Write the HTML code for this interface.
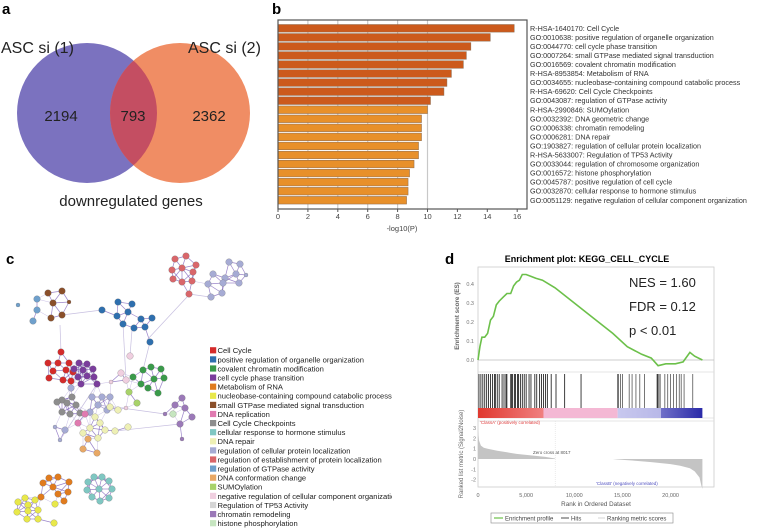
<!DOCTYPE html>
<html><head><meta charset="utf-8">
<style>
html,body{margin:0;padding:0;background:#fff;}
svg{display:block;font-family:"Liberation Sans",Arial,sans-serif;}
</style></head>
<body>
<svg id="fig" width="757" height="529" viewBox="0 0 757 529" xmlns="http://www.w3.org/2000/svg">
  <!-- Panel a: Venn -->
  <g>
    <text x="2" y="14" font-size="15" font-weight="bold">a</text>
    <circle cx="87" cy="113" r="70" fill="#7b72bf"/>
    <circle cx="180" cy="113" r="70" fill="#f0895f" fill-opacity="0.97"/>
    <clipPath id="clipL"><circle cx="87" cy="113" r="70"/></clipPath>
    <circle cx="180" cy="113" r="70" fill="#c44e62" clip-path="url(#clipL)"/>
    <text x="1" y="53" font-size="16" fill="#222">ASC si (1)</text>
    <text x="188" y="53" font-size="16" fill="#222">ASC si (2)</text>
    <text x="61" y="121" font-size="15" text-anchor="middle" fill="#222">2194</text>
    <text x="133" y="121" font-size="15" text-anchor="middle" fill="#222">793</text>
    <text x="209" y="121" font-size="15" text-anchor="middle" fill="#222">2362</text>
    <text x="131" y="206" font-size="15" text-anchor="middle" fill="#222">downregulated genes</text>
  </g>

  <!-- Panel b -->
  <g id="panelB">
    <text x="272" y="14" font-size="15" font-weight="bold">b</text>
  </g>

  <!-- Panel c -->
  <g id="panelC">
    <text x="6" y="264" font-size="15" font-weight="bold">c</text>
  </g>

  <!-- Panel d -->
  <g id="panelD">
    <text x="445" y="264" font-size="15" font-weight="bold">d</text>
    <text x="587" y="262" font-size="9" font-weight="bold" text-anchor="middle">Enrichment plot: KEGG_CELL_CYCLE</text>
  </g>
</svg>
<script>
const NS='http://www.w3.org/2000/svg';
function mk(parent,tag,attrs,text){const e=document.createElementNS(NS,tag);for(const k in attrs)e.setAttribute(k,attrs[k]);if(text!==undefined)e.textContent=text;parent.appendChild(e);return e;}

/* ---------- Panel b data ---------- */
const bTerms=["R-HSA-1640170: Cell Cycle","GO:0010638: positive regulation of organelle organization","GO:0044770: cell cycle phase transition","GO:0007264: small GTPase mediated signal transduction","GO:0016569: covalent chromatin modification","R-HSA-8953854: Metabolism of RNA","GO:0034655: nucleobase-containing compound catabolic process","R-HSA-69620: Cell Cycle Checkpoints","GO:0043087: regulation of GTPase activity","R-HSA-2990846: SUMOylation","GO:0032392: DNA geometric change","GO:0006338: chromatin remodeling","GO:0006281: DNA repair","GO:1903827: regulation of cellular protein localization","R-HSA-5633007: Regulation of TP53 Activity","GO:0033044: regulation of chromosome organization","GO:0016572: histone phosphorylation","GO:0045787: positive regulation of cell cycle","GO:0032870: cellular response to hormone stimulus","GO:0051129: negative regulation of cellular component organization"];
const bValues=[15.8,14.2,12.9,12.6,12.4,11.6,11.3,11.1,10.2,10.0,9.6,9.6,9.6,9.4,9.4,9.1,8.8,8.7,8.7,8.6];
const bTicks=[0,2,4,6,8,10,12,14,16];

/* ---------- Panel c data ---------- */
const cLegend=["Cell Cycle","positive regulation of organelle organization","covalent chromatin modification","cell cycle phase transition","Metabolism of RNA","nucleobase-containing compound catabolic process","small GTPase mediated signal transduction","DNA replication","Cell Cycle Checkpoints","cellular response to hormone stimulus","DNA repair","regulation of cellular protein localization","regulation of establishment of protein localization","regulation of GTPase activity","DNA conformation change","SUMOylation","negative regulation of cellular component organization","Regulation of TP53 Activity","chromatin remodeling","histone phosphorylation"];
const cColors=["#d42b2b","#2e6fae","#3a9a4a","#7a3d9c","#e07b1e","#e8e84a","#8a4f2a","#e07ab0","#8d8d8d","#7fc7c2","#eef0b5","#a6abd4","#d9666a","#6fa0cc","#e8a865","#a8d26a","#f0cfe0","#d5d5d5","#9b79b8","#c6e5c0"];

/* ---------- Panel d data ---------- */
const esRanks=[0,0.2,0.4,0.7,1.0,1.3,1.6,1.9,2.2,2.6,3.0,3.4,3.7,4.0,4.3,4.6,5.0,5.5,6.0,6.7,8,10,12,14,15.5,17,18,18.7,19.5,20.5,21.3,22.0,22.5,23.3];
const esValues=[0.0,0.07,0.12,0.12,0.14,0.21,0.23,0.29,0.31,0.33,0.35,0.35,0.39,0.41,0.42,0.45,0.45,0.44,0.43,0.42,0.38,0.30,0.22,0.14,0.07,0.03,0.01,-0.03,-0.02,-0.02,-0.01,0.04,0.02,0.0];
const hitRanks=[0.1,0.3,0.5,0.7,0.9,1.1,1.3,1.5,1.7,1.8,2.0,2.2,2.5,2.7,2.9,3.0,3.4,3.5,3.6,3.8,3.9,4.1,4.2,4.4,4.6,4.8,5.0,5.3,5.5,5.9,6.1,6.4,6.6,6.8,7.0,7.2,7.6,8.1,9.0,10.7,14.5,14.6,14.8,15.0,15.7,16.0,16.4,16.8,17.3,18.6,18.7,18.9,19.4,19.7,20.0,20.3,20.6,20.9,21.1,21.4,22.3];
const metricRanks=[0,0.1,0.3,0.6,1,2,3,4,5,6,7,8,8.017,10,12,14,14.5,16,18,20,21,22,22.5,23,23.2,23.3];
const metricValues=[2.8,1.8,1.3,1.1,1.0,0.8,0.65,0.5,0.4,0.3,0.2,0.05,0,0,0,0,-0.05,-0.15,-0.3,-0.5,-0.65,-0.9,-1.2,-1.8,-2.6,-2.9];
const xTickVals=[0,5000,10000,15000,20000];
const xTickLabels=["0","5,000","10,000","15,000","20,000"];
const esTicks=[0.0,0.1,0.2,0.3,0.4];
const metricTicks=[3,2,1,0,-1,-2];

/* ===== Draw panel b ===== */
(function(){
  const g=document.getElementById('panelB');
  const x0=278,x1=527,y0=20,y1=209,step=9.05,top=24.5;
  const sx=v=>x0+v*14.95;
  bTicks.forEach(t=>{ if(t>0&&t<=10){const gl=mk(g,'line',{x1:sx(t),x2:sx(t),y1:y0,y2:y1,stroke:'#c8c8c8','stroke-width':1.2});
    
    }});
  bValues.forEach((v,i)=>{
    const r=mk(g,'rect',{x:x0,y:top+i*step,width:sx(v)-x0,height:7.6,fill:i<9?'#cc5a1c':'#e8902a',stroke:'#8a6a50','stroke-width':0.5});
    
    
    const t=mk(g,'text',{x:530,y:top+i*step+6.3,'font-size':7.2,fill:'#333'},bTerms[i]);
    
    
  });
  const box=mk(g,'rect',{x:x0,y:y0,width:x1-x0,height:y1-y0,fill:'none',stroke:'#555','stroke-width':1.2});
  
  
  bTicks.forEach(t=>{mk(g,'line',{x1:sx(t),x2:sx(t),y1:y1,y2:y1+3,stroke:'#555'});
    const tl=mk(g,'text',{x:sx(t),y:219,'font-size':7.5,'text-anchor':'middle',fill:'#444'},String(t));
    
    });
  const xt=mk(g,'text',{x:402,y:231,'font-size':7.5,'text-anchor':'middle',fill:'#444'},'-log10(P)');
  
  
})();

/* ===== Draw panel c ===== */
(function(){
  const g=document.getElementById('panelC');
  const C=(i)=>cColors[i];
  const clusters=[
    {c:12,n:[[175,259],[186,256],[196,265],[172,270],[182,268],[193,272],[173,279],[182,282],[192,281],[189,294]]},
    {c:11,n:[[229,262],[240,264],[213,274],[225,278],[236,274],[208,284],[223,283],[239,283],[246,275,2],[222,293],[211,297]]},
    {c:6,n:[[48,293],[62,291],[53,303],[51,318],[62,315],[69,302,2]]},
    {c:13,n:[[18,305,2],[37,299],[37,310],[33,321]]},
    {c:1,n:[[102,310],[118,302],[132,304],[117,316],[128,312],[123,324],[134,328],[141,319],[152,318],[145,327],[150,342]]},
    {c:0,n:[[61,352],[48,363],[58,363],[69,363],[53,371],[66,370],[73,372],[49,378],[63,380],[71,381]]},
    {c:3,n:[[79,363],[87,364],[74,369],[83,370],[93,369],[78,377],[87,376],[94,377],[81,384],[97,384]]},
    {c:2,n:[[143,370],[151,367],[161,369],[133,377],[154,379],[164,378],[141,384],[148,388],[158,393]]},
    {c:8,n:[[62,400],[72,397],[57,402],[67,403],[76,405],[62,412],[70,414],[80,413]]},
    {c:11,n:[[92,397],[102,397],[110,397],[98,405],[107,410],[90,412],[55,427,2],[65,430],[60,440,2],[71,388]]},
    {c:7,n:[[85,414],[78,423]]},
    {c:10,n:[[110,407],[118,410],[95,417],[100,423],[90,428],[83,433],[115,431],[128,427],[98,438],[105,430]]},
    {c:14,n:[[88,439],[83,449],[97,453]]},
    {c:15,n:[[129,392],[137,403]]},
    {c:16,n:[[130,356],[121,373],[126,380],[111,382,2],[126,408,2]]},
    {c:18,n:[[182,398],[175,405],[185,408],[192,417],[165,414,2],[180,424],[182,439,2]]},
    {c:19,n:[[173,414]]},
    {c:4,n:[[49,478],[58,477],[69,482],[43,483],[53,487],[68,492],[58,494],[64,501],[41,497]]},
    {c:5,n:[[18,502],[28,505],[17,512],[28,511],[38,510],[27,519],[38,519],[25,498],[35,500],[55,504],[54,523]]},
    {c:9,n:[[99,489],[94,477],[102,477],[109,481],[112,489],[109,498],[100,501],[92,497],[87,490],[88,482]]}
  ];
  const all=[];
  clusters.forEach((cl,ci)=>cl.n.forEach(p=>all.push({x:p[0],y:p[1],r:p[2]||3.3,c:C(cl.c),ci})));
  const eg=mk(g,'g',{});
  
  
  for(let i=0;i<all.length;i++)for(let j=i+1;j<all.length;j++){
    const a=all[i],b=all[j],d=Math.hypot(a.x-b.x,a.y-b.y);
    if(d<17){mk(eg,'line',{x1:a.x,y1:a.y,x2:b.x,y2:b.y,stroke:(a.ci===b.ci)?'#7a5cb8':'#b7a8dc','stroke-width':(a.ci===b.ci)?0.7:0.5,'stroke-opacity':0.75});}
  }
  [[62,315,102,310],[60,325,61,352],[132,330,130,356],[150,342,143,370],[187,297,147,340],[100,405,165,414],[123,324,126,380],[210,297,189,294],[97,384,60,440],[115,431,180,424]].forEach(l=>
    mk(eg,'line',{x1:l[0],y1:l[1],x2:l[2],y2:l[3],stroke:'#c7bfe0','stroke-width':0.7}));
  const ng=mk(g,'g',{});
  
  
  all.forEach(n=>{const c=mk(ng,'circle',{cx:n.x,cy:n.y,r:n.r,fill:n.c,stroke:'#777','stroke-width':0.3});
    
    });
  const lg=mk(g,'g',{});
  
  
  const cp=mk(g,'clipPath',{id:'legClip'});mk(cp,'rect',{x:200,y:330,width:192,height:200});
  lg.setAttribute('clip-path','url(#legClip)');
  cLegend.forEach((t,i)=>{
    const y=350.5+i*9.1;
    const s=mk(lg,'rect',{x:210,y:y-3.3,width:6.2,height:6.2,fill:cColors[i]});
    
    
    const tx=mk(lg,'text',{x:217.5,y:y+2.7,'font-size':7.6,fill:'#222'},t);
    
    
  });
})();

/* ===== Draw panel d ===== */
(function(){
  const g=document.getElementById('panelD');
  const X0=478,X1=714,T=267,B=487;
  const sx=r=>X0+r*9.63; // r in thousands
  const sEs=v=>360-v*190;
  const sM=v=>459-v*10.3;
  const fr=mk(g,'rect',{x:X0,y:T,width:X1-X0,height:B-T,fill:'none',stroke:'#ccc','stroke-width':0.8});
  
  
  [372,418,421].forEach(y=>mk(g,'line',{x1:X0,x2:X1,y1:y,y2:y,stroke:'#ddd','stroke-width':0.8}));
  mk(g,'line',{x1:X0,x2:X1,y1:sEs(0),y2:sEs(0),stroke:'#bbb','stroke-width':0.7});
  esTicks.forEach(t=>{const tl=mk(g,'text',{x:474,y:sEs(t)+2,'font-size':5.5,'text-anchor':'end',fill:'#777'},t.toFixed(1));
    
    });
  const yl=mk(g,'text',{x:0,y:0,'font-size':6.3,'font-weight':'bold','text-anchor':'middle',fill:'#666',transform:'translate(459,316) rotate(-90)'},'Enrichment score (ES)');
  
  
  // color bar
  const cb=mk(g,'g',{});
  
  
  const segs=[[0,6.8,'#e0392f','#f08080'],[6.8,14.5,'#f4b8d4','#f4b8d4'],[14.5,19,'#c8c8ee','#b8b8e8'],[19,23.3,'#7070c8','#2a2aa8']];
  segs.forEach((s,i)=>{const id='cbg'+i;const lgd=mk(cb,'linearGradient',{id:id});mk(lgd,'stop',{offset:0,'stop-color':s[2]});mk(lgd,'stop',{offset:1,'stop-color':s[3]});
    mk(cb,'rect',{x:sx(s[0]),y:408,width:sx(s[1])-sx(s[0]),height:10,fill:'url(#'+id+')'});});
  // hits
  const hg=mk(g,'g',{});
  
  
  hitRanks.forEach(r=>mk(hg,'line',{x1:sx(r),x2:sx(r),y1:374,y2:408,stroke:(r<11||(r>18.5&&r<19))?'#111':'#555','stroke-width':0.8}));
  // ES curve
  const pts=esRanks.map((r,i)=>sx(r).toFixed(1)+','+sEs(esValues[i]).toFixed(1)).join(' ');
  const pl=mk(g,'polyline',{points:pts,fill:'none',stroke:'#6cc04a','stroke-width':1.6});
  
  
  // metric
  let d='M'+sx(metricRanks[0])+','+sM(0);
  metricRanks.forEach((r,i)=>{d+=' L'+sx(r).toFixed(1)+','+sM(metricValues[i]).toFixed(1);});
  d+=' L'+sx(metricRanks[metricRanks.length-1]).toFixed(1)+','+sM(0)+' Z';
  const mp=mk(g,'path',{d:d,fill:'#c4c4c4',stroke:'none'});
  
  
  mk(g,'line',{x1:sx(8.017),x2:sx(8.017),y1:421,y2:B,stroke:'#ddd','stroke-width':0.6,'stroke-dasharray':'1,1'});
  metricTicks.forEach(t=>{const tl=mk(g,'text',{x:476,y:sM(t)+2,'font-size':5.5,'text-anchor':'end',fill:'#777'},String(t));
    
    });
  const yl2=mk(g,'text',{x:0,y:0,'font-size':6,'text-anchor':'middle',fill:'#666',transform:'translate(463,454) rotate(-90)'},'Ranked list metric (Signal2Noise)');
  
  
  mk(g,'text',{x:480,y:424,'font-size':4.5,fill:'#e04040'},"'ClassA' (positively correlated)");
  mk(g,'text',{x:533,y:454,'font-size':4.5,fill:'#555'},'Zero cross at 8017');
  mk(g,'text',{x:596,y:485,'font-size':4.5,fill:'#5050c0'},"'ClassB' (negatively correlated)");
  xTickVals.forEach((v,i)=>{const tl=mk(g,'text',{x:sx(v/1000),y:497,'font-size':5.5,'text-anchor':'middle',fill:'#666'},xTickLabels[i]);
    
    });
  const xt=mk(g,'text',{x:596,y:506,'font-size':6.3,'text-anchor':'middle',fill:'#555'},'Rank in Ordered Dataset');
  
  
  // stats
  ['NES = 1.60','FDR = 0.12','p < 0.01'].forEach((s,i)=>{const t=mk(g,'text',{x:629,y:287+i*24,'font-size':13,fill:'#222'},s);
    
    });
  // legend
  const lgb=mk(g,'g',{});
  
  
  mk(lgb,'rect',{x:491,y:513,width:182,height:10,fill:'#fff',stroke:'#888','stroke-width':0.6});
  mk(lgb,'line',{x1:494,x2:503,y1:518,y2:518,stroke:'#6cc04a','stroke-width':1.2});
  mk(lgb,'text',{x:505,y:520.5,'font-size':6,fill:'#444'},'Enrichment profile');
  mk(lgb,'line',{x1:561,x2:569,y1:518,y2:518,stroke:'#222','stroke-width':0.8});
  mk(lgb,'text',{x:571,y:520.5,'font-size':6,fill:'#444'},'Hits');
  mk(lgb,'line',{x1:598,x2:605,y1:518,y2:518,stroke:'#ccc','stroke-width':0.8});
  mk(lgb,'text',{x:607,y:520.5,'font-size':6,fill:'#444'},'Ranking metric scores');
})();
</script>
</body></html>
